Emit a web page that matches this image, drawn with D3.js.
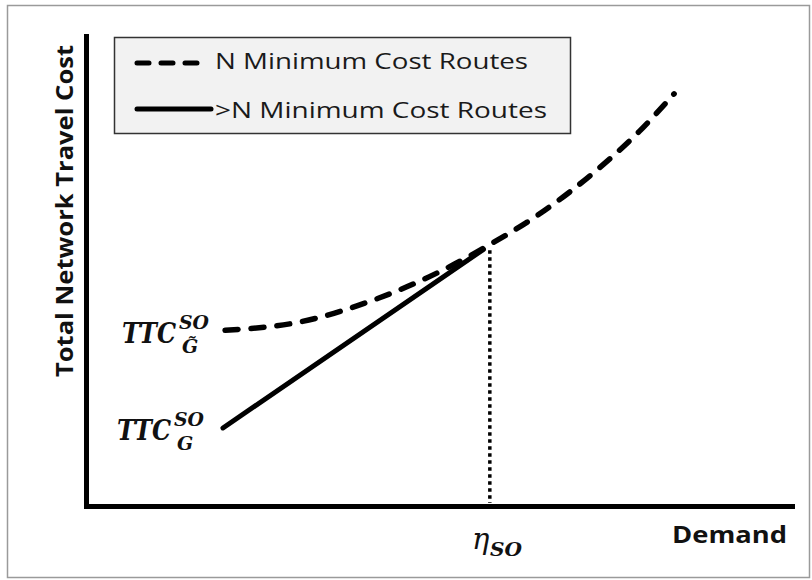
<!DOCTYPE html>
<html>
<head>
<meta charset="utf-8">
<script src="https://cdn.jsdelivr.net/npm/d3@7"></script>
<style>
  html, body { margin: 0; padding: 0; background: #fff; }
  svg { display: block; }
</style>
</head>
<body>
<svg id="chart" width="812" height="580"></svg>
<script>
// ---- Data (arbitrary units 0..100) ----
const demandN   = [19.7, 30.1, 41.4, 49.9, 56.7, 64.1, 72.6, 78.3, 83.3];
const costN     = [37.4, 39.1, 44.2, 49.7, 55.2, 62.0, 71.8, 79.6, 87.7];
const demandMore = [19.4, 56.3];
const costMore   = [16.6, 54.6];
const etaSO = 57.2;
const etaCost = 54.4;
const seriesNames = ["N Minimum Cost Routes", ">N Minimum Cost Routes"];
const xTitle = "Demand";
const yTitle = "Total Network Travel Cost";

const svg = d3.select("#chart");

// outer frame
svg.append("rect")
  .attr("x", 7.5).attr("y", 5.5).attr("width", 802).attr("height", 572)
  .attr("fill", "#fff").attr("stroke", "#9a9a9a").attr("stroke-width", 1.5);

const x = d3.scaleLinear().domain([0, 100]).range([86, 792]);
const y = d3.scaleLinear().domain([0, 100]).range([506, 36]);

// axes (no ticks)
const gx = svg.append("g").attr("transform", `translate(0,${y(0)})`)
  .call(d3.axisBottom(x).tickValues([]).tickSizeOuter(0));
const gy = svg.append("g").attr("transform", `translate(${x(0)},0)`)
  .call(d3.axisLeft(y).tickValues([]).tickSizeOuter(0));
[gx, gy].forEach(g => g.select(".domain")
  .attr("stroke", "#000").attr("stroke-width", 5).attr("stroke-linecap", "square"));

// dotted vertical at eta_SO
svg.append("line")
  .attr("x1", x(etaSO)).attr("x2", x(etaSO))
  .attr("y1", y(etaCost)).attr("y2", y(0) - 3)
  .attr("stroke", "#000").attr("stroke-width", 3.5)
  .attr("stroke-dasharray", "3.5,3.5");

// solid line (>N)
const line = d3.line().x(d => x(d[0])).y(d => y(d[1]));
svg.append("path")
  .datum(d3.zip(demandMore, costMore))
  .attr("d", line)
  .attr("fill", "none").attr("stroke", "#000").attr("stroke-width", 5)
  .attr("stroke-linecap", "round");

// dashed curve (N)
const curve = d3.line().x(d => x(d[0])).y(d => y(d[1])).curve(d3.curveMonotoneX);
svg.append("path")
  .datum(d3.zip(demandN, costN))
  .attr("d", curve)
  .attr("fill", "none").attr("stroke", "#000").attr("stroke-width", 5.5)
  .attr("stroke-linecap", "round")
  .attr("stroke-dasharray", "13,13");

// legend
const lg = svg.append("g");
lg.append("rect")
  .attr("x", 114.5).attr("y", 37.5).attr("width", 456).attr("height", 96)
  .attr("fill", "#f2f2f2").attr("stroke", "#333").attr("stroke-width", 1.5);
lg.append("line").attr("x1", 137).attr("x2", 205).attr("y1", 63).attr("y2", 63)
  .attr("stroke", "#000").attr("stroke-width", 5).attr("stroke-linecap", "round")
  .attr("stroke-dasharray", "12,12");
lg.append("line").attr("x1", 137).attr("x2", 211).attr("y1", 109).attr("y2", 109)
  .attr("stroke", "#000").attr("stroke-width", 5).attr("stroke-linecap", "round");
lg.append("text").attr("x", 215).attr("y", 69)
  .attr("font-family", "Open Sans, sans-serif").attr("font-size", 22).attr("fill", "#1a1a1a")
  .attr("textLength", 313).attr("lengthAdjust", "spacingAndGlyphs")
  .text(seriesNames[0]);
lg.append("text").attr("x", 215).attr("y", 118)
  .attr("font-family", "Open Sans, sans-serif").attr("font-size", 22).attr("fill", "#1a1a1a")
  .attr("textLength", 332).attr("lengthAdjust", "spacingAndGlyphs")
  .text(seriesNames[1]);

// axis titles
svg.append("text")
  .attr("x", 672).attr("y", 543)
  .attr("font-family", "Open Sans, sans-serif").attr("font-weight", "bold")
  .attr("font-size", 24).attr("fill", "#111")
  .attr("textLength", 115).attr("lengthAdjust", "spacingAndGlyphs")
  .text(xTitle);
svg.append("text")
  .attr("transform", "translate(73,211) rotate(-90)")
  .attr("text-anchor", "middle")
  .attr("font-family", "Open Sans, sans-serif").attr("font-weight", "bold")
  .attr("font-size", 24).attr("fill", "#111")
  .attr("textLength", 332).attr("lengthAdjust", "spacingAndGlyphs")
  .text(yTitle);

// math labels
const serif = "DejaVu Serif, Liberation Serif, serif";
function ttcLabel(tx, ty, subText) {
  const g = svg.append("g").attr("font-family", serif).attr("font-style", "italic")
    .attr("font-weight", "bold").attr("fill", "#111");
  g.append("text").attr("x", tx).attr("y", ty).attr("font-size", 27)
    .attr("textLength", 54).attr("lengthAdjust", "spacingAndGlyphs").text("TTC");
  g.append("text").attr("x", tx + 57).attr("y", ty - 14).attr("font-size", 19)
    .attr("textLength", 30).attr("lengthAdjust", "spacingAndGlyphs").text("SO");
  g.append("text").attr("x", tx + 60).attr("y", ty + 10).attr("font-size", 19)
    .text(subText);
}
ttcLabel(122, 343, "G̃");
ttcLabel(117, 440, "G");

const eta = svg.append("g").attr("font-family", serif).attr("font-style", "italic")
  .attr("fill", "#111");
eta.append("text").attr("x", 472).attr("y", 549).attr("font-size", 29).text("η");
eta.append("text").attr("x", 490).attr("y", 556).attr("font-size", 19)
  .attr("font-weight", "bold").attr("textLength", 32).attr("lengthAdjust", "spacingAndGlyphs")
  .text("SO");
</script>
</body>
</html>
